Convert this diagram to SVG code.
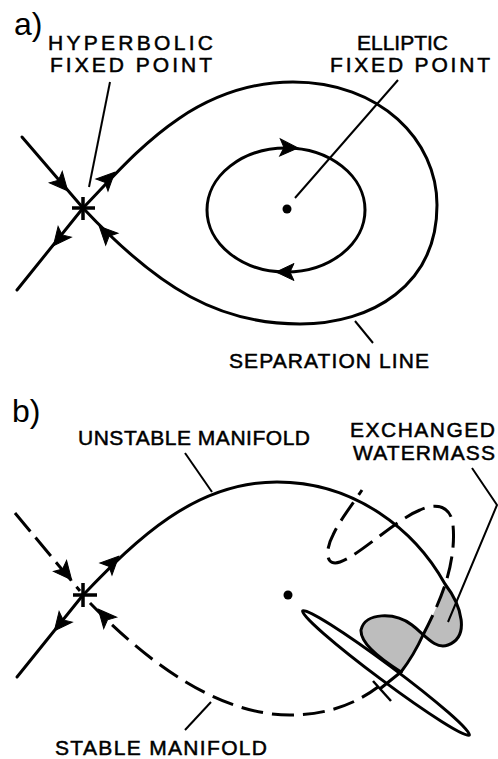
<svg xmlns="http://www.w3.org/2000/svg" width="498" height="759" viewBox="0 0 498 759">
<style>
.t{font-family:"Liberation Sans",Arial,sans-serif;font-size:21px;fill:#000;stroke:#000;stroke-width:0.5}
.p{font-family:"Liberation Sans",Arial,sans-serif;font-size:32px;fill:#000}
.c{fill:none;stroke:#000;stroke-width:3;stroke-linecap:round;stroke-linejoin:round}
.d{fill:none;stroke:#000;stroke-width:3;stroke-dasharray:22 9}
.l{fill:none;stroke:#000;stroke-width:2}
.s{fill:none;stroke:#000;stroke-width:3.5}
.ah{fill:#000;stroke:#000;stroke-width:1;stroke-linejoin:miter}
.dot{fill:#000}
.sh{fill:#bdbdbd;stroke:none}
</style>
<defs>
<path id="ah" d="M1,0 L-17,-8.5 L-13,0 L-17,8.5 Z"/>
</defs>
<rect width="498" height="759" fill="#fff"/>

<g id="panel-a-label"><text class="p" x="14" y="35">a)</text></g>

<g id="connectors">
  <!-- panel a -->
  <path class="c" d="M22,137 L83,208"/>
  <path class="c" d="M83,208 L17,290"/>
  <path class="c" d="M83,208 C130,160 190,82 293,82 C380,82 437,140 437,205 C437,285 372,324 300,324 C220,324 160,290 83,208 Z"/>
  <ellipse class="c" cx="286" cy="210" rx="79" ry="62"/>
  <use href="#ah" class="ah" transform="translate(67,190) rotate(49)"/>
  <use href="#ah" class="ah" transform="translate(114,173) rotate(-45)"/>
  <use href="#ah" class="ah" transform="translate(54,245) rotate(129)"/>
  <use href="#ah" class="ah" transform="translate(100,227) rotate(-134)"/>
  <use href="#ah" class="ah" transform="translate(297,148) rotate(2)"/>
  <use href="#ah" class="ah" transform="translate(277,272) rotate(180)"/>
  <path class="l" d="M110,82 L89,187"/>
  <path class="l" d="M398,80 L295,198"/>
  <path class="l" d="M355,321 L373,343"/>

  <!-- panel b -->
  <path class="sh" d="M445,584 C462,606 470,637 448,645 C435,650 425,635 412,625 C395,612 365,612 361,630 C360,645 385,662 401,672 Q414,655 423,635 C432,618 440,600 445,585 Z"/>
  <path class="d" d="M15,513 L80,591" style="stroke-dasharray:24 8"/>
  <path class="c" d="M83,595 L17,677"/>
  <path class="c" d="M83,595 C130,547 190,482 277,482 C355,482 415,530 445,584 C462,606 470,637 448,645 C435,650 425,635 412,625 C395,612 365,612 361,630 C360,645 385,662 401,672"/>
  <path class="d" d="M90,603 C150,665 220,715 290,715 C330,715 358,702 378,687"/>
  <path class="c" d="M381,688 L401,672"/>
  <path class="l" d="M373,681 L391,701" style="stroke-width:2.5"/>
  <path class="c" d="M401,672 Q414,655 423,635"/>
  <path class="d" d="M423,635 C432,618 440,600 445,585 C451,567 455,545 453,525 C451,505 435,503 420,510 C395,520 360,555 340,562 C325,567 325,550 333,535 C340,520 352,505 362,490"/>
  <ellipse class="c" cx="386" cy="673" rx="104" ry="8" transform="rotate(36.7 386 673)"/>
  <use href="#ah" class="ah" transform="translate(71,579) rotate(50)"/>
  <use href="#ah" class="ah" transform="translate(118,557) rotate(-45)"/>
  <use href="#ah" class="ah" transform="translate(55,630) rotate(129)"/>
  <use href="#ah" class="ah" transform="translate(99,610) rotate(-131)"/>
  <path class="l" d="M185,453 L212,492"/>
  <path class="l" d="M472,468 L497,505 L448,622"/>
  <path class="l" d="M211,702 L185,730"/>
</g>

<g id="hyperbolic-point-a">
  <path class="s" d="M72,208 H95 M83,197 V220"/>
  <text class="t" x="48" y="50" textLength="165" lengthAdjust="spacing">HYPERBOLIC</text>
  <text class="t" x="50" y="72" textLength="162" lengthAdjust="spacing">FIXED POINT</text>
</g>
<g id="elliptic-point-a">
  <circle class="dot" cx="287" cy="209" r="4.5"/>
  <text class="t" x="357" y="50" textLength="91" lengthAdjust="spacing">ELLIPTIC</text>
  <text class="t" x="330" y="72" textLength="160" lengthAdjust="spacing">FIXED POINT</text>
</g>
<g id="separation-line-label">
  <text class="t" x="229" y="368" textLength="200" lengthAdjust="spacing">SEPARATION LINE</text>
</g>

<g id="panel-b-label"><text class="p" x="12" y="422">b)</text></g>
<g id="hyperbolic-point-b">
  <path class="s" d="M73,595 H97 M83,583 V607"/>
</g>
<g id="elliptic-point-b">
  <circle class="dot" cx="288" cy="595" r="4.5"/>
</g>
<g id="unstable-manifold-label">
  <text class="t" x="78" y="445" textLength="232" lengthAdjust="spacing">UNSTABLE MANIFOLD</text>
</g>
<g id="exchanged-watermass-label">
  <text class="t" x="350" y="437" textLength="145" lengthAdjust="spacing">EXCHANGED</text>
  <text class="t" x="353" y="460" textLength="142" lengthAdjust="spacing">WATERMASS</text>
</g>
<g id="stable-manifold-label">
  <text class="t" x="55" y="755" textLength="212" lengthAdjust="spacing">STABLE MANIFOLD</text>
</g>
</svg>
